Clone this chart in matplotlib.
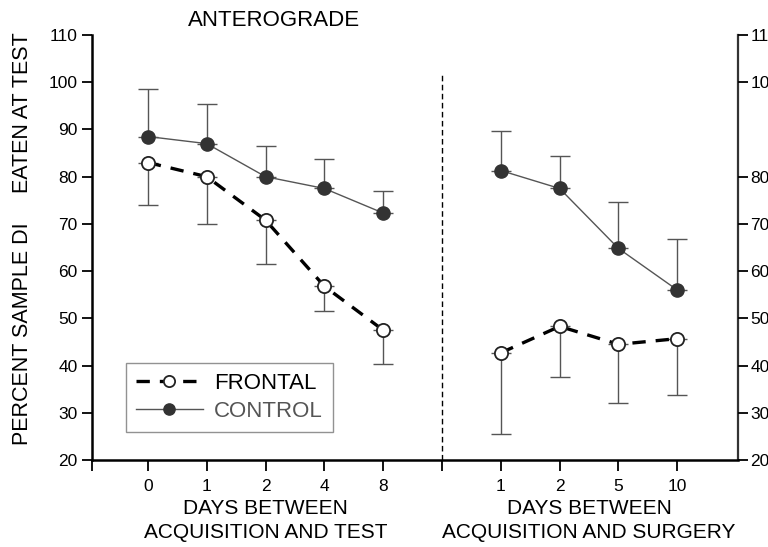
import matplotlib.pyplot as plt
import matplotlib.transforms as mtransforms

plt.rcParams['font.family'] = ['Liberation Sans', 'DejaVu Sans']

# anterograde panel (days between acquisition and test)
ante_days = ['0', '1', '2', '4', '8']
ante_control = [88.5, 87.0, 80.0, 77.5, 72.3]
ante_control_err = [10.0, 8.3, 6.5, 6.2, 4.7]
ante_frontal = [83.0, 80.0, 70.8, 56.8, 47.5]
ante_frontal_err = [9.0, 10.0, 9.2, 5.3, 7.2]

# retrograde panel (days between acquisition and surgery)
retro_days = ['1', '2', '5', '10']
retro_control = [81.3, 77.5, 64.8, 56.0]
retro_control_err = [8.4, 6.8, 9.9, 10.8]
retro_frontal = [42.7, 48.3, 44.5, 45.7]
retro_frontal_err = [17.2, 10.7, 12.5, 11.9]

left_ticks = [20, 30, 40, 50, 60, 70, 80, 90, 100, 110]
right_ticks = [20, 30, 40, 50, 60, 70, 80, 100, 110]

fig = plt.figure(figsize=(7.68, 5.47), dpi=100)
ax = fig.add_axes([0.1198, 0.159, 0.841, 0.777])

xa = list(range(len(ante_days)))
xr = [i + len(ante_days) + 1 for i in range(len(retro_days))]
divider = len(ante_days)

ctrl_kw = dict(color='#555555', lw=1.0, marker='o', ms=9.5, mfc='#333333', mec='#333333', zorder=3)
front_kw = dict(color='black', lw=2.4, ls=(0, (4, 3)), marker='o', ms=9.5, mfc='white', mec='#222222',
                mew=1.3, zorder=4)
err_kw = dict(fmt='none', ecolor='#555555', elinewidth=1.0, capsize=7, capthick=1.0, zorder=2)

for xs, ctrl, cerr, fr, ferr in [(xa, ante_control, ante_control_err, ante_frontal, ante_frontal_err),
                                  (xr, retro_control, retro_control_err, retro_frontal, retro_frontal_err)]:
    ax.errorbar(xs, ctrl, yerr=[[0] * len(cerr), cerr], **err_kw)
    ax.errorbar(xs, fr, yerr=[ferr, [0] * len(ferr)], **err_kw)
    l1, = ax.plot(xs, fr, **front_kw)
    l2, = ax.plot(xs, ctrl, **ctrl_kw)

ax.plot([divider, divider], [20, 101.5], color='black', lw=1.0, ls=(0, (4, 2.5)))

ax.set_xlim(-0.95, 10.03)
ax.set_ylim(20, 110)
ax.spines['top'].set_visible(False)
for s in ['left', 'bottom']:
    ax.spines[s].set_linewidth(1.8)
ax.spines['right'].set_linewidth(1.6)
ax.spines['right'].set_color('#333333')
ax.set_yticks(left_ticks)
ax.tick_params(axis='y', direction='out', length=7, width=1.3, labelsize=12.5)
ax.set_xticks(xa + xr)
ax.set_xticklabels(ante_days + retro_days)
ax.set_xticks([-0.95, divider], minor=True)
ax.tick_params(axis='x', which='both', direction='out', length=8, width=1.3, labelsize=12.5, pad=6)

ax2 = ax.twinx()
ax2.set_ylim(20, 110)
ax2.set_yticks(right_ticks)
ax2.tick_params(axis='y', direction='out', length=7, width=1.3, labelsize=12.5, pad=2)
for s in ax2.spines.values():
    s.set_visible(False)

trans = mtransforms.blended_transform_factory(ax.transData, fig.transFigure)
ax.text(2, 0.048, 'DAYS BETWEEN\nACQUISITION AND TEST', transform=trans, ha='center', va='center',
        fontsize=15, linespacing=1.3)
ax.text(7.5, 0.048, 'DAYS BETWEEN\nACQUISITION AND SURGERY', transform=trans, ha='center', va='center',
        fontsize=15, linespacing=1.3)
ax.text(2.15, 0.962, 'ANTEROGRADE', transform=trans, ha='center', va='center', fontsize=16)

fig.text(0.029, 1 - 334 / 547, 'PERCENT SAMPLE DI', rotation=90, ha='center', va='center', fontsize=15.5)
fig.text(0.029, 1 - 113 / 547, 'EATEN AT TEST', rotation=90, ha='center', va='center', fontsize=15.5)

leg = ax.legend([l1, l2], ['FRONTAL', 'CONTROL'], loc='upper left',
                bbox_to_anchor=(126 / 768, 1 - 363 / 547), bbox_transform=fig.transFigure, borderaxespad=0,
                fontsize=16, frameon=True, fancybox=False, edgecolor='#777777', handlelength=3.0,
                handletextpad=0.5, borderpad=0.45, labelspacing=0.3, markerscale=0.85)
leg.get_frame().set_linewidth(1.0)
leg.get_texts()[1].set_color('#555555')

fig.savefig('out.png', dpi=100)
